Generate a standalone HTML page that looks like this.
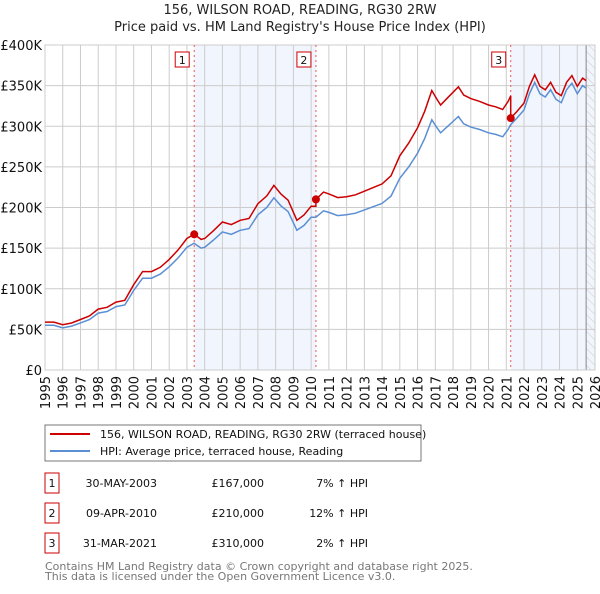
<!DOCTYPE html>
<html><head><meta charset="utf-8"><style>
body{margin:0;background:#fff;font-family:"DejaVu Sans","Liberation Sans",sans-serif;}
svg text{font-family:"DejaVu Sans","Liberation Sans",sans-serif;}
</style></head><body>
<svg id="c" width="600" height="590" xmlns="http://www.w3.org/2000/svg">
<defs><pattern id="hatch" width="6" height="6" patternUnits="userSpaceOnUse" patternTransform="rotate(-45)"><line x1="0" y1="0" x2="0" y2="6" stroke="#ccc" stroke-width="1"/></pattern></defs>
<text x="300" y="14" text-anchor="middle" font-size="13" fill="#222">156, WILSON ROAD, READING, RG30 2RW</text>
<text x="300" y="31" text-anchor="middle" font-size="13" fill="#222">Price paid vs. HM Land Registry's House Price Index (HPI)</text>
<g id="plot"></g>
<rect x="45" y="425" width="376" height="36" fill="#fff" stroke="#777"/>
<line x1="50" y1="434" x2="90" y2="434" stroke="#cc0000" stroke-width="2"/>
<text x="100" y="438" font-size="11" fill="#111">156, WILSON ROAD, READING, RG30 2RW (terraced house)</text>
<line x1="50" y1="451" x2="90" y2="451" stroke="#5b8fd4" stroke-width="2"/>
<text x="100" y="455" font-size="11" fill="#111">HPI: Average price, terraced house, Reading</text>
<g id="table" font-size="11" fill="#111"></g>
<text x="45" y="570" font-size="11" fill="#777">Contains HM Land Registry data © Crown copyright and database right 2025.</text>
<text x="45" y="580" font-size="11" fill="#777">This data is licensed under the Open Government Licence v3.0.</text>
</svg>
<script>
const years=[1995,1995.5,1996,1996.5,1997,1997.5,1998,1998.5,1999,1999.5,2000,2000.5,2001,2001.5,2002,2002.5,2003,2003.4,2003.8,2004,2004.5,2005,2005.5,2006,2006.5,2007,2007.5,2007.9,2008.3,2008.7,2009.2,2009.6,2010,2010.27,2010.7,2011,2011.5,2012,2012.5,2013,2013.5,2014,2014.5,2015,2015.5,2016,2016.4,2016.8,2017.1,2017.3,2017.7,2018.3,2018.6,2019,2019.5,2020,2020.4,2020.8,2021.1,2021.25,2021.6,2022,2022.3,2022.6,2022.9,2023.2,2023.5,2023.8,2024.1,2024.4,2024.7,2025,2025.3,2025.5];
const hpi=[55,55,52,54,58,62,70,72,78,80,98,113,113,118,127,138,151,156,150,151,160,170,167,172,174,191,200,212,202,195,172,178,188,188,196,194,190,191,193,197,201,205,214,236,250,267,285,308,298,292,300,312,303,299,296,292,290,287,296,302,310,320,340,354,340,336,345,333,329,345,353,340,350,347];
const saleDates=[2003.41,2010.27,2021.25];
const salePrices=[167,210,310];
const saleLabels=["30-MAY-2003","09-APR-2010","31-MAR-2021"];
const salePriceText=["£167,000","£210,000","£310,000"];
const saleDiff=["7% \u2191 HPI","12% \u2191 HPI","2% \u2191 HPI"];
const yTicks=[0,50,100,150,200,250,300,350,400];
const yTickLabels=["£0","£50K","£100K","£150K","£200K","£250K","£300K","£350K","£400K"];
const xTicks=[1995,1996,1997,1998,1999,2000,2001,2002,2003,2004,2005,2006,2007,2008,2009,2010,2011,2012,2013,2014,2015,2016,2017,2018,2019,2020,2021,2022,2023,2024,2025,2026];

const X0=45,X1=595,Y0=370,Y1=45;
const xs=y=>X0+(y-1995)/(2026-1995)*(X1-X0);
const ys=v=>Y0-v/400*(Y0-Y1);
const NS="http://www.w3.org/2000/svg";
const plot=document.getElementById('plot');
function mk(tag,attrs,parent){const e=document.createElementNS(NS,tag);for(const k in attrs)e.setAttribute(k,attrs[k]);(parent||plot).appendChild(e);return e;}
function hpiAt(t){for(let i=1;i<years.length;i++){if(t<=years[i]){const f=(t-years[i-1])/(years[i]-years[i-1]);return hpi[i-1]+f*(hpi[i]-hpi[i-1]);}}return hpi[hpi.length-1];}

let r=mk('rect',{x:X0,y:Y1,width:X1-X0,height:Y0-Y1,fill:'#fff'});


// shaded spans
let s1=mk('rect',{x:xs(saleDates[0]),y:Y1,width:xs(saleDates[1])-xs(saleDates[0]),height:Y0-Y1,fill:'#eef3fc',opacity:0.8});


let s3=mk('rect',{x:xs(saleDates[2]),y:Y1,width:X1-xs(saleDates[2]),height:Y0-Y1,fill:'#eef3fc',opacity:0.8});


let h=mk('rect',{x:xs(2025.5),y:Y1,width:X1-xs(2025.5),height:Y0-Y1,fill:'url(#hatch)'});


// grid
yTicks.forEach((v,i)=>{
 let l=mk('line',{x1:X0,x2:X1,y1:ys(v),y2:ys(v),stroke:'#ccc','stroke-width':1});
 
 
 let t=mk('text',{x:X0-3,y:ys(v)+5,'text-anchor':'end','font-size':13,fill:'#111'});
 t.textContent=yTickLabels[i];
 
 
});
xTicks.forEach(v=>{
 let l=mk('line',{x1:xs(v),x2:xs(v),y1:Y1,y2:Y0,stroke:'#ccc','stroke-width':1});
 
 
 let t=mk('text',{x:0,y:0,'text-anchor':'end','font-size':13,fill:'#111',transform:`translate(${xs(v)+5},${Y0+6}) rotate(-90)`});
 t.textContent=v;
 
 
});
let vl=mk('line',{x1:xs(2025.5),x2:xs(2025.5),y1:Y1,y2:Y0,stroke:'#888','stroke-width':1});


let bd=mk('rect',{x:X0,y:Y1,width:X1-X0,height:Y0-Y1,fill:'none',stroke:'#ccc'});


// sale markers lines
saleDates.forEach((d,i)=>{
 let l=mk('line',{x1:xs(d),x2:xs(d),y1:Y1,y2:Y0,stroke:'#e55','stroke-width':1,'stroke-dasharray':'2,3'});
 
 
 let b=mk('rect',{x:xs(d)-21+7-7,y:52,width:14,height:15,fill:'#fff',stroke:'#cc0000'});
 b.setAttribute('x',xs(d)-19);
 
 
 let t=mk('text',{x:xs(d)-12,y:64,'text-anchor':'middle','font-size':11,fill:'#111'});
 t.textContent=i+1;
 
 
});
// HPI line
let dh=years.map((y,i)=>(i?'L':'M')+xs(y).toFixed(1)+','+ys(hpi[i]).toFixed(1)).join('');
let hp=mk('path',{d:dh,fill:'none',stroke:'#5b8fd4','stroke-width':1.5});


// property line: HPI scaled by last sale
const factors=saleDates.map((d,i)=>salePrices[i]/hpiAt(d));
function factorAt(t){let f=factors[0];saleDates.forEach((d,i)=>{if(t>=d)f=factors[i];});return f;}
let pts=[];
years.forEach((y,i)=>{
 saleDates.forEach((d,j)=>{if(i>0&&years[i-1]<d&&y>=d){pts.push([d,hpiAt(d)*factorAt(d-0.001)]);pts.push([d,salePrices[j]]);}});
 pts.push([y,hpi[i]*factorAt(y)]);
});
let dp=pts.map((p,i)=>(i?'L':'M')+xs(p[0]).toFixed(1)+','+ys(p[1]).toFixed(1)).join('');
let pp=mk('path',{d:dp,fill:'none',stroke:'#cc0000','stroke-width':1.5});


saleDates.forEach((d,i)=>{
 let c=mk('circle',{cx:xs(d),cy:ys(salePrices[i]),r:4,fill:'#cc0000'});
 
 
});
// table
const tb=document.getElementById('table');
saleDates.forEach((d,i)=>{
 const y=483+i*30;
 let b=mk('rect',{x:45,y:y-10,width:14,height:20,fill:'#fff',stroke:'#cc0000'},tb);
 
 
 let t0=mk('text',{x:52,y:y+4,'text-anchor':'middle'},tb);t0.textContent=i+1;
 
 
 let t1=mk('text',{x:157,y:y+4,'text-anchor':'end'},tb);t1.textContent=saleLabels[i];
 
 
 let t2=mk('text',{x:264,y:y+4,'text-anchor':'end'},tb);t2.textContent=salePriceText[i];
 
 
 let t3=mk('text',{x:368,y:y+4,'text-anchor':'end'},tb);t3.textContent=saleDiff[i];
 
 
});
</script>
</body></html>
